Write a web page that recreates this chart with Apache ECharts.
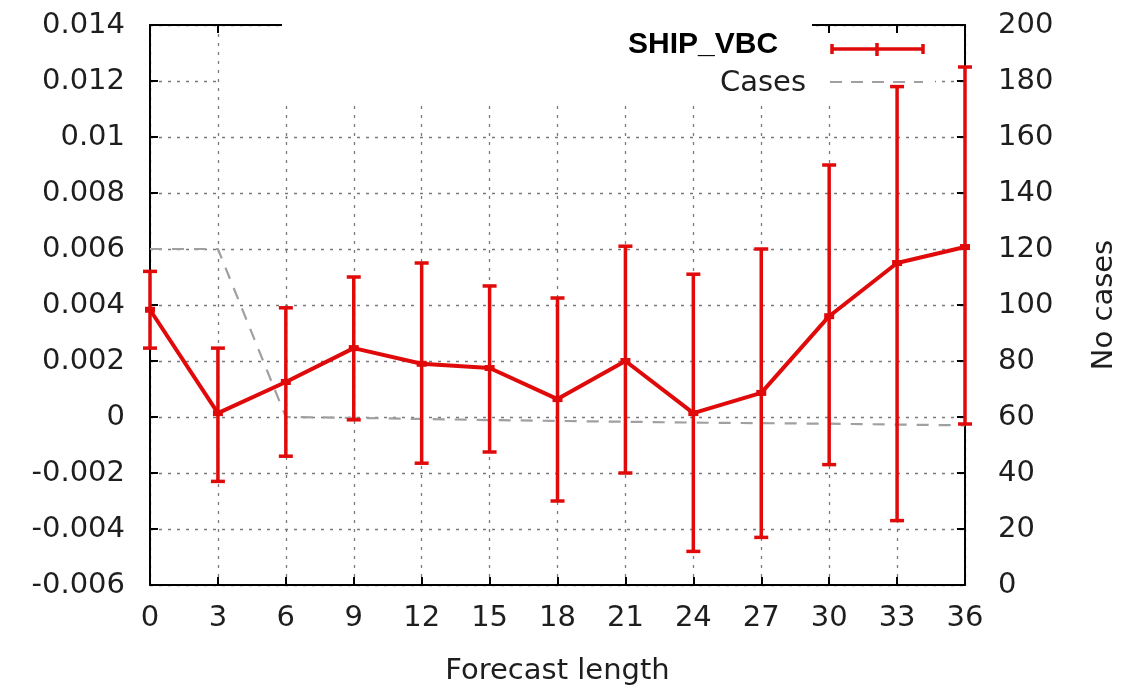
<!DOCTYPE html>
<html>
<head>
<meta charset="utf-8">
<script src="https://cdn.jsdelivr.net/npm/echarts@6/dist/echarts.min.js"></script>
<style>
html,body{margin:0;padding:0;background:#fff;}
#chart{width:1140px;height:692px;}
</style>
</head>
<body>
<div id="chart"></div>
<script>
// ---- data ----
const forecastLength = [0, 3, 6, 9, 12, 15, 18, 21, 24, 27, 30, 33, 36];
const shipMean = [0.00383, 0.00014, 0.00125, 0.00246, 0.0019, 0.00175, 0.00064, 0.002, 0.00014, 0.00086, 0.0036, 0.0055, 0.00607];
const shipLow  = [0.00246, -0.0023, -0.0014, -0.0001, -0.00165, -0.00125, -0.003, -0.002, -0.0048, -0.0043, -0.0017, -0.0037, -0.00025];
const shipHigh = [0.0052, 0.00246, 0.0039, 0.0050, 0.0055, 0.00468, 0.00425, 0.0061, 0.0051, 0.006, 0.009, 0.0118, 0.0125];
const cases = [120, 120, 60, 59.7, 59.3, 58.9, 58.6, 58.3, 58.0, 57.8, 57.6, 57.3, 57.0];
const leftTickLabelDigits = 3;

const RED = '#e00a0a';
const GRAY = '#a0a0a0';
const FONT = 'DejaVu Sans';
const TXT = '#1e1e1e';

const meanData = forecastLength.map((x, i) => [x, shipMean[i]]);
const errData = forecastLength.map((x, i) => [x, shipLow[i], shipHigh[i]]);
const casesData = forecastLength.map((x, i) => [x, cases[i]]);

const chart = echarts.init(document.getElementById('chart'), null, {renderer: 'canvas'});

const axisLineStyle = {color: '#000', width: 2};
const gridLineStyle = {color: '#7a7a7a', type: [3, 6], width: 1.3};

const option = {
  backgroundColor: '#fff',
  animation: false,
  grid: {left: 150, right: 175, top: 25, bottom: 107, show: false},
  xAxis: [
    {
      type: 'value', min: 0, max: 36, interval: 3, position: 'bottom',
      axisLine: {onZero: false, lineStyle: axisLineStyle},
      axisTick: {inside: true, length: 8, lineStyle: axisLineStyle},
      axisLabel: {margin: 19, fontSize: 29, fontFamily: FONT, color: TXT},
      splitLine: {show: true, lineStyle: gridLineStyle},
      name: 'Forecast length', nameLocation: 'middle', nameGap: 72,
      nameTextStyle: {fontSize: 29, fontFamily: FONT, color: TXT}
    },
    {
      type: 'value', min: 0, max: 36, interval: 3, position: 'top',
      axisLine: {onZero: false, lineStyle: axisLineStyle},
      axisTick: {inside: true, length: 8, lineStyle: axisLineStyle},
      axisLabel: {show: false},
      splitLine: {show: false}
    }
  ],
  yAxis: [
    {
      type: 'value', min: -0.006, max: 0.014, interval: 0.002, position: 'left',
      axisLine: {show: true, onZero: false, lineStyle: axisLineStyle},
      axisTick: {show: true, inside: true, length: 8, lineStyle: axisLineStyle},
      axisLabel: {
        margin: 25, fontSize: 29, fontFamily: FONT, color: TXT,
        formatter: v => String(parseFloat(v.toFixed(leftTickLabelDigits)))
      },
      splitLine: {show: true, lineStyle: gridLineStyle}
    },
    {
      type: 'value', min: 0, max: 200, interval: 20, position: 'right',
      axisLine: {show: true, onZero: false, lineStyle: axisLineStyle},
      axisTick: {show: true, inside: true, length: 8, lineStyle: axisLineStyle},
      axisLabel: {margin: 33, fontSize: 29, fontFamily: FONT, color: TXT},
      splitLine: {show: false},
      name: 'No cases', nameLocation: 'middle', nameGap: 125,
      nameTextStyle: {fontSize: 29, fontFamily: FONT, color: TXT}
    }
  ],
  graphic: [
    // opaque key box (covers grid lines) and pasted title box (covers top border)
    {type: 'rect', z: 1, silent: true, shape: {x: 220, y: 34, width: 715, height: 66}, style: {fill: '#fff'}},
    {type: 'rect', z: 1, silent: true, shape: {x: 282, y: 0, width: 530, height: 40}, style: {fill: '#fff'}},
    {type: 'text', z: 10, x: 628, y: 45, style: {text: 'SHIP_VBC', font: 'bold 30px "Liberation Sans"', fill: '#000', textAlign: 'left', textVerticalAlign: 'middle'}},
    {type: 'line', z: 10, shape: {x1: 832, y1: 49, x2: 923, y2: 49}, style: {stroke: RED, lineWidth: 3.5}},
    {type: 'line', z: 10, shape: {x1: 832, y1: 44, x2: 832, y2: 54}, style: {stroke: RED, lineWidth: 3.5}},
    {type: 'line', z: 10, shape: {x1: 877, y1: 43, x2: 877, y2: 56}, style: {stroke: RED, lineWidth: 3.5}},
    {type: 'line', z: 10, shape: {x1: 923, y1: 44, x2: 923, y2: 54}, style: {stroke: RED, lineWidth: 3.5}},
    {type: 'text', z: 10, x: 806, y: 83, style: {text: 'Cases', font: '29px "DejaVu Sans"', fill: TXT, textAlign: 'right', textVerticalAlign: 'middle'}},
    {type: 'line', z: 10, shape: {x1: 830, y1: 82, x2: 923, y2: 82}, style: {stroke: GRAY, lineWidth: 2, lineDash: [12, 9]}}
  ],
  series: [
    {
      name: 'Cases', type: 'line', xAxisIndex: 0, yAxisIndex: 1, z: 2,
      data: casesData, symbol: 'none',
      lineStyle: {color: GRAY, width: 2.2, type: [12, 10]}
    },
    {
      name: 'SHIP_VBC errors', type: 'custom', xAxisIndex: 0, yAxisIndex: 0, z: 3,
      data: errData,
      encode: {x: 0, y: [1, 2]},
      renderItem: function (params, api) {
        const x = api.value(0), lo = api.value(1), hi = api.value(2);
        const pLo = api.coord([x, lo]);
        const pHi = api.coord([x, hi]);
        const hw = 7;
        const st = {stroke: RED, lineWidth: 3.5};
        return {
          type: 'group',
          children: [
            {type: 'line', shape: {x1: pLo[0], y1: pLo[1], x2: pHi[0], y2: pHi[1]}, style: st},
            {type: 'line', shape: {x1: pHi[0] - hw, y1: pHi[1], x2: pHi[0] + hw, y2: pHi[1]}, style: st},
            {type: 'line', shape: {x1: pLo[0] - hw, y1: pLo[1], x2: pLo[0] + hw, y2: pLo[1]}, style: st}
          ]
        };
      }
    },
    {
      name: 'SHIP_VBC', type: 'line', xAxisIndex: 0, yAxisIndex: 0, z: 4,
      data: meanData, symbol: 'rect', symbolSize: [10, 6],
      itemStyle: {color: RED}, lineStyle: {color: RED, width: 4}
    }
  ]
};
chart.setOption(option);
</script>
</body>
</html>
